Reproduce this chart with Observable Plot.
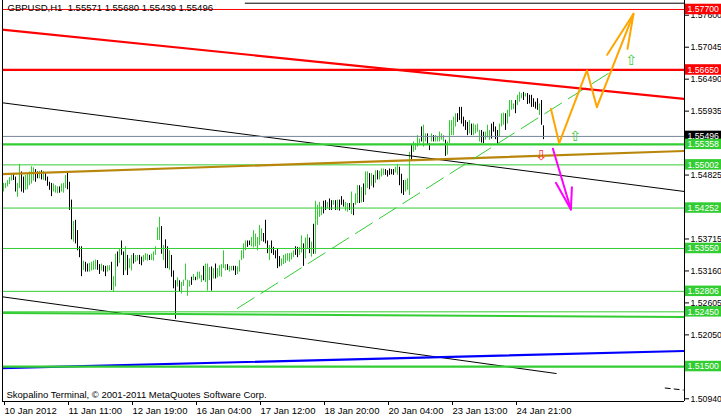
<!DOCTYPE html>
<html><head><meta charset="utf-8">
<script src="https://cdn.jsdelivr.net/npm/d3@7"></script>
<script src="https://cdn.jsdelivr.net/npm/@observablehq/plot@0.6"></script>
<style>
html,body{margin:0;padding:0;background:#fff;}
#chart svg{display:block;}
</style></head><body><div id="chart"></div>
<script>
// ---------- data ----------
const symbolTitle = "GBPUSD,H1\u00a0 1.55571 1.55680 1.55439 1.55496";
const copyright = "Skopalino Terminal, \u00a9 2001-2011 MetaQuotes Software Corp.";
const timeTickBars = [0, 32, 64, 96, 128, 160, 192, 224, 256];
const timeTickLabels = ["10 Jan 2012","11 Jan 11:00","12 Jan 19:00","16 Jan 04:00","17 Jan 12:00","18 Jan 20:00","20 Jan 04:00","23 Jan 13:00","24 Jan 21:00"];
// visible scale labels (the others sit under the price tags)
const priceTicks = [1.57600,1.57045,1.56490,1.55935,1.54825,1.53715,1.53160,1.52605,1.52050,1.50940];

const barHigh = [
1.5468,1.5468,1.5473,1.5478,1.5482,1.5485,1.5479,1.5468,1.5501,1.5488,
1.5479,1.5482,1.5485,1.5488,1.5497,1.5495,1.5492,1.5488,1.5489,1.5490,
1.5489,1.5485,1.5479,1.5470,1.5468,1.5467,1.5464,1.5462,1.5462,1.5467,
1.5468,1.5482,1.5486,1.5470,1.5439,1.5402,1.5404,1.5386,1.5358,1.5358,
1.5333,1.5331,1.5328,1.5329,1.5331,1.5333,1.5335,1.5334,1.5327,1.5328,
1.5325,1.5324,1.5325,1.5325,1.5331,1.5306,1.5345,1.5349,1.5354,1.5368,
1.5349,1.5358,1.5343,1.5337,1.5343,1.5346,1.5343,1.5343,1.5343,1.5340,
1.5343,1.5346,1.5345,1.5343,1.5345,1.5349,1.5358,1.5391,1.5409,1.5393,
1.5360,1.5370,1.5358,1.5351,1.5343,1.5316,1.5299,1.5304,1.5299,1.5296,
1.5300,1.5328,1.5300,1.5299,1.5305,1.5310,1.5305,1.5314,1.5314,
1.5308,1.5324,1.5328,1.5328,1.5322,1.5323,1.5320,1.5328,1.5320,1.5325,
1.5327,1.5351,1.5327,1.5327,1.5324,1.5324,1.5324,1.5324,1.5323,1.5334,
1.5351,1.5363,1.5368,1.5368,1.5368,1.5374,1.5386,1.5380,1.5374,1.5395,
1.5389,1.5381,1.5404,1.5368,1.5360,1.5368,1.5357,1.5351,1.5354,1.5341,
1.5337,1.5343,1.5345,1.5346,1.5346,1.5347,1.5351,1.5358,1.5357,1.5357,
1.5377,1.5363,1.5373,1.5379,1.5373,1.5366,1.5397,1.5437,1.5430,1.5435,
1.5427,1.5437,1.5438,1.5435,1.5441,1.5438,1.5438,1.5438,1.5439,1.5439,
1.5445,1.5439,1.5435,1.5433,1.5433,1.5453,1.5433,1.5450,1.5464,1.5464,
1.5461,1.5467,1.5488,1.5488,1.5485,1.5485,1.5482,1.5490,1.5490,1.5489,
1.5493,1.5493,1.5492,1.5490,1.5493,1.5492,1.5492,1.5496,1.5501,1.5496,
1.5484,1.5473,1.5473,1.5476,1.5522,1.5534,1.5540,1.5537,1.5551,1.5545,
1.5566,1.5569,1.5554,1.5554,1.5537,1.5554,1.5551,1.5551,1.5548,1.5557,
1.5554,1.5551,1.5543,1.5540,1.5577,1.5577,1.5583,1.5589,1.5589,1.5600,
1.5600,1.5583,1.5577,1.5574,1.5577,1.5571,1.5571,1.5569,1.5571,1.5560,
1.5560,1.5557,1.5557,1.5569,1.5560,1.5571,1.5574,1.5566,1.5560,1.5571,
1.5589,1.5590,1.5589,1.5595,1.5612,1.5612,1.5606,1.5612,1.5621,1.5626,
1.5624,1.5626,1.5624,1.5624,1.5621,1.5621,1.5615,1.5609,1.5615,1.5606,
1.5612,1.5568];
const barLow = [
1.5453,1.5459,1.5462,1.5466,1.5472,1.5473,1.5453,1.5444,1.5459,1.5453,
1.5451,1.5456,1.5457,1.5464,1.5467,1.5472,1.5470,1.5476,1.5476,1.5474,
1.5473,1.5472,1.5463,1.5456,1.5445,1.5453,1.5451,1.5450,1.5451,1.5453,
1.5451,1.5459,1.5457,1.5421,1.5370,1.5366,1.5363,1.5351,1.5339,1.5306,
1.5317,1.5314,1.5314,1.5314,1.5316,1.5317,1.5318,1.5317,1.5310,1.5316,
1.5314,1.5306,1.5314,1.5316,1.5282,1.5279,1.5288,1.5323,1.5329,1.5343,
1.5308,1.5316,1.5308,1.5320,1.5316,1.5328,1.5331,1.5333,1.5327,1.5325,
1.5331,1.5334,1.5333,1.5334,1.5334,1.5333,1.5343,1.5369,1.5369,1.5345,
1.5334,1.5320,1.5320,1.5317,1.5305,1.5285,1.5232,1.5288,1.5279,1.5276,
1.5289,1.5299,1.5272,1.5288,1.5291,1.5299,1.5299,1.5300,1.5302,
1.5296,1.5299,1.5296,1.5281,1.5299,1.5281,1.5302,1.5302,1.5304,1.5306,
1.5305,1.5320,1.5316,1.5317,1.5314,1.5316,1.5316,1.5308,1.5310,1.5314,
1.5334,1.5337,1.5351,1.5357,1.5360,1.5358,1.5356,1.5358,1.5351,1.5360,
1.5367,1.5366,1.5363,1.5346,1.5334,1.5346,1.5343,1.5337,1.5320,1.5323,
1.5324,1.5327,1.5329,1.5333,1.5331,1.5335,1.5339,1.5343,1.5339,1.5343,
1.5347,1.5324,1.5337,1.5353,1.5346,1.5340,1.5345,1.5345,1.5395,1.5409,
1.5412,1.5415,1.5421,1.5424,1.5421,1.5421,1.5430,1.5421,1.5421,1.5420,
1.5430,1.5427,1.5420,1.5418,1.5421,1.5414,1.5412,1.5430,1.5433,1.5433,
1.5434,1.5435,1.5447,1.5459,1.5457,1.5463,1.5460,1.5468,1.5474,1.5474,
1.5479,1.5482,1.5482,1.5479,1.5482,1.5483,1.5482,1.5486,1.5482,1.5464,
1.5450,1.5447,1.5453,1.5456,1.5447,1.5508,1.5522,1.5525,1.5531,1.5537,
1.5540,1.5531,1.5540,1.5534,1.5525,1.5540,1.5540,1.5540,1.5540,1.5540,
1.5543,1.5540,1.5515,1.5517,1.5537,1.5551,1.5551,1.5566,1.5574,1.5577,
1.5571,1.5566,1.5560,1.5551,1.5554,1.5551,1.5551,1.5554,1.5557,1.5540,
1.5538,1.5537,1.5543,1.5547,1.5543,1.5545,1.5557,1.5544,1.5537,1.5548,
1.5566,1.5569,1.5560,1.5571,1.5583,1.5595,1.5596,1.5589,1.5603,1.5609,
1.5615,1.5612,1.5618,1.5605,1.5606,1.5600,1.5600,1.5597,1.5595,1.5586,
1.5569,1.5544];
// g = rising bar, b = falling bar
const barDir =
 "gggggbbggb" + "bgggggbbgb" + "gbbbbgggbg" + "ggbbbgbbbb" + "gbbggggbbg" +
 "bbggbggbgb" + "bgbggbggbb" + "gggbgggggb" + "gbbgbbbgbg" + "ggggbgbgg" +
 "gbgggbgbgg" + "gggbggbbgg" + "gggbbggggg" + "gbbbgbbbbb" + "gggggggbbg" +
 "gbggbgbggg" + "gbbgbbgbgb" + "bbggbgbggb" + "gbggbgbgbg" + "ggbbbbbggb" +
 "bbgggbgggg" + "bggbbgbggg" + "ggbgggggbb" + "bbbbgbgggg" + "bbgggbbbbg" +
 "ggbggggbgg" + "gbgbbbbbbg" + "bb";

const redLevels = [1.57700, 1.56650];
const currentPrice = [1.55496];
const greenLevels = [1.55358, 1.55002, 1.54252, 1.53550, 1.52806, 1.52450, 1.51500];

// trend lines: [bar index, price]
const redTrend = [[-1.65, 1.57352], [340.35, 1.56146]];
const upperBlackTrend = [[-1.65, 1.56085], [340.35, 1.54540]];
const lowerBlackTrend = [[-1.65, 1.52716], [276.35, 1.51379]];
const brownTrend = [[-1.65, 1.54840], [340.35, 1.55243]];
const greenChannel = [[116.85, 1.52508], [302.35, 1.56588]];
const blueTrend = [[-1.65, 1.51471], [340.35, 1.51770]];
const greenSupport = [[-1.65, 1.52430], [340.35, 1.52360]];
const topTrend = [[120.85, 1.57809], [340.35, 1.57809]];
const shortTrend = [[330.85, 1.51127], [339.85, 1.51093]];

const orangePath = [[273.7,1.55976],[277.85,1.55378],[291.7,1.56641],[296.7,1.56003],[315,1.57625]];
const orangeHead = [[301.85,1.56913],[315,1.57625],[312,1.57017]];
const magentaPath = [[274.7,1.55281],[283.7,1.54227]];
const magentaHead = [[276.2,1.54691],[283.7,1.54227],[284.2,1.54614]];
const buyArrows = [[285.85,1.55486],[313.85,1.56814]];
const sellArrows = [[268.85,1.55165]];

// ---------- drawing ----------
const W = 721, H = 418, ML = 2, MR = 37, MT = 0, MB = 17;
const xDom = [-0.5, 340.5], yDom = [1.50893, 1.57856];
const pxPerPrice = (H - MT - MB) / (yDom[1] - yDom[0]);
const half = 5.25 / pxPerPrice;
const GREEN = "#32CD32";
const FONT = "'Liberation Sans', Arial, sans-serif";

const bars = barHigh.map((h, i) => ({i, hi: h, lo: barLow[i], up: barDir[i] === "g"}));
const pts = a => a.map(([i, p]) => ({i, p}));
const thick = new Set([1.56650, 1.55358, 1.51500]);
const trend = (a, o) => Plot.line(pts(a), {x: "i", y: "p", clip: true, ...o});
const xMax = xDom[1];

const chart = Plot.plot({
  width: W, height: H,
  marginLeft: ML, marginRight: MR, marginTop: MT, marginBottom: MB,
  x: {domain: xDom},
  y: {domain: yDom},
  style: {fontFamily: FONT, fontSize: "9.5px", background: "#fff", overflow: "hidden"},
  marks: [
    Plot.ruleX(bars.filter(d => d.up), {x: "i", y1: "lo", y2: "hi", stroke: GREEN, strokeWidth: 1}),
    Plot.ruleX(bars.filter(d => !d.up), {x: "i", y1: "lo", y2: "hi", stroke: "#000", strokeWidth: 1}),
    trend(upperBlackTrend, {stroke: "#000", strokeWidth: 1}),
    trend(lowerBlackTrend, {stroke: "#000", strokeWidth: 1}),
    trend(topTrend, {stroke: "#000", strokeWidth: 1}),
    trend(shortTrend, {stroke: "#000", strokeWidth: 1, strokeDasharray: "5,4"}),
    trend(blueTrend, {stroke: "#0000FF", strokeWidth: 2.2}),
    trend(greenSupport, {stroke: GREEN, strokeWidth: 2.2}),
    Plot.ruleY(greenLevels, {y: d => d, stroke: GREEN, strokeWidth: d => thick.has(d) ? 2.2 : 1}),
    Plot.ruleY(currentPrice, {y: d => d, stroke: "#778899", strokeWidth: 1}),
    trend(brownTrend, {stroke: "#B8860B", strokeWidth: 2.2}),
    trend(greenChannel, {stroke: GREEN, strokeWidth: 1, strokeDasharray: "20,8"}),
    Plot.ruleY(redLevels, {y: d => d, stroke: "#FF0000", strokeWidth: d => thick.has(d) ? 2.2 : 1}),
    trend(redTrend, {stroke: "#FF0000", strokeWidth: 2.2}),
    trend(orangePath, {stroke: "#FFA500", strokeWidth: 2}),
    trend(orangeHead, {stroke: "#FFA500", strokeWidth: 2}),
    trend(magentaPath, {stroke: "#FF00FF", strokeWidth: 2}),
    trend(magentaHead, {stroke: "#FF00FF", strokeWidth: 2}),
    Plot.text(pts(buyArrows), {x: "i", y: "p", text: () => "\u21E7", fill: "#3BCB3B", fontSize: 14, fontFamily: "DejaVu Sans"}),
    Plot.text(pts(sellArrows), {x: "i", y: "p", text: () => "\u21E9", fill: "#FF3030", fontSize: 14, fontFamily: "DejaVu Sans"}),
    // frame
    Plot.ruleX([xDom[0]], {stroke: "#000"}),
    Plot.ruleX([xDom[1]], {stroke: "#000"}),
    Plot.ruleY([yDom[0]], {stroke: "#000"}),
    // axes
    Plot.axisY(priceTicks, {anchor: "right", tickSize: 4, tickPadding: 2, tickFormat: d => d.toFixed(5), label: null, fontSize: 8.7}),
    Plot.axisX(timeTickBars, {anchor: "bottom", tickSize: 4, tickPadding: 2, tickFormat: d => timeTickLabels[timeTickBars.indexOf(d)], textAnchor: "start", dx: 1, label: null, fontSize: 9.5}),
    // price tags
    Plot.rect(redLevels, {x1: xMax + 0.5, x2: xMax + 25, y1: d => d - half, y2: d => d + half, fill: "#FF0000"}),
    Plot.rect(currentPrice, {x1: xMax + 0.5, x2: xMax + 25, y1: d => d - half, y2: d => d + half, fill: "#000"}),
    Plot.rect(greenLevels, {x1: xMax + 0.5, x2: xMax + 25, y1: d => d - half, y2: d => d + half, fill: GREEN}),
    Plot.text([...redLevels, ...currentPrice, ...greenLevels], {x: xMax, y: d => d, text: d => d.toFixed(5), dx: 3, textAnchor: "start", fill: "#fff", fontSize: 8.7}),
    // texts
    Plot.text([symbolTitle], {frameAnchor: "top-left", dx: 5, dy: 4, textAnchor: "start", lineAnchor: "top", fill: "#000", fontSize: 9.5}),
    Plot.text([copyright], {frameAnchor: "bottom-left", dx: 4, dy: -4, textAnchor: "start", lineAnchor: "bottom", fill: "#000", fontSize: 9.5})
  ]
});
document.getElementById("chart").appendChild(chart);
</script>
</body></html>
